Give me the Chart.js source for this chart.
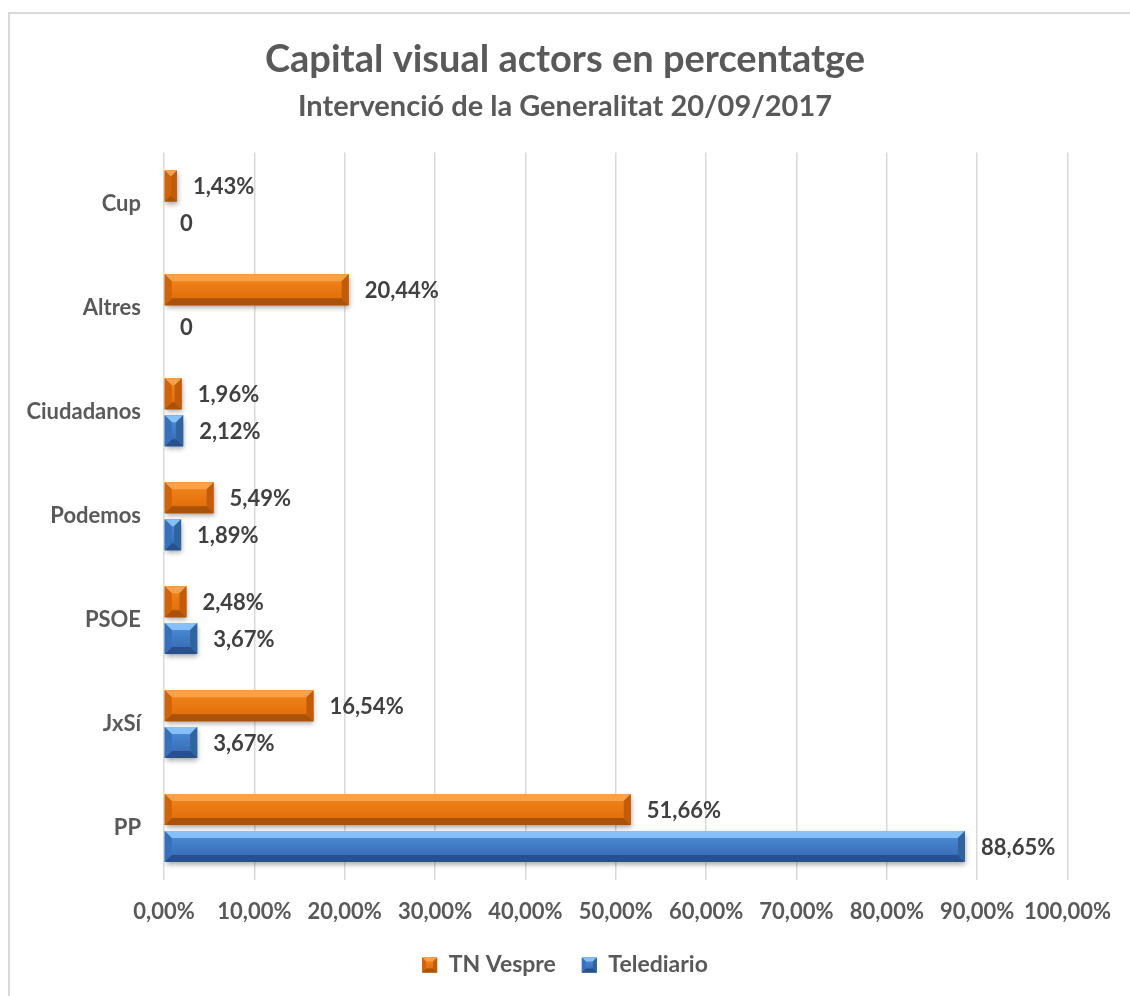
<!DOCTYPE html>
<html>
<head>
<meta charset="utf-8">
<script src="https://cdn.jsdelivr.net/npm/chart.js@4.4.0/dist/chart.umd.min.js"></script>
<style>
  html, body { margin: 0; padding: 0; background: #fff; overflow: hidden; }
  #marc { position: absolute; left: 8px; top: 12px; width: 1200px; height: 1100px; border: 2px solid #d9d9d9; box-sizing: border-box; }
  #grafic { position: absolute; left: 0; top: 0; }
</style>
</head>
<body>
<div id="marc"></div>
<canvas id="grafic" width="1130" height="996"></canvas>
<script>
// Dades del gràfic
const categories = ['Cup', 'Altres', 'Ciudadanos', 'Podemos', 'PSOE', 'JxSí', 'PP'];
const tnVespre = [1.43, 20.44, 1.96, 5.49, 2.48, 16.54, 51.66];
const telediario = [0, 0, 2.12, 1.89, 3.67, 3.67, 88.65];
const seriesNames = ['TN Vespre', 'Telediario'];

// Colors per al relleu de les barres
const paletes = [
    { base: '#E8720C', top: '#F9A04A', bottom: '#A9520A', left: '#D0640A', right: '#C35C0A', g1: '#F5861C', g2: '#DC6A08' },
    { base: '#3D7CCB', top: '#86C0F6', bottom: '#27508C', left: '#3770BC', right: '#30649F', g1: '#4D90DC', g2: '#3566AE' }
];

const FONT = 'Lato, "Open Sans", sans-serif';

function formatPct(v) {
    if (v === 0) return '0';
    return v.toFixed(2).replace('.', ',') + '%';
}

function drawBevel(ctx, left, top, right, bottom, pal, b) {
    b = Math.min(b, (right - left) / 2, (bottom - top) / 2);
    const grad = ctx.createLinearGradient(0, top, 0, bottom);
    grad.addColorStop(0, pal.g1);
    grad.addColorStop(1, pal.g2);
    ctx.fillStyle = grad;
    ctx.fillRect(left, top, right - left, bottom - top);

    const poly = (pts, color) => {
        ctx.beginPath();
        ctx.moveTo(pts[0][0], pts[0][1]);
        for (let i = 1; i < pts.length; i++) ctx.lineTo(pts[i][0], pts[i][1]);
        ctx.closePath();
        ctx.fillStyle = color;
        ctx.fill();
    };
    poly([[left, top], [right, top], [right - b, top + b], [left + b, top + b]], pal.top);
    poly([[left, bottom], [right, bottom], [right - b, bottom - b], [left + b, bottom - b]], pal.bottom);
    poly([[left, top], [left + b, top + b], [left + b, bottom - b], [left, bottom]], pal.left);
    poly([[right, top], [right - b, top + b], [right - b, bottom - b], [right, bottom]], pal.right);
}

const bevelPlugin = {
    id: 'bevel',
    beforeDatasetsDraw(chart) {
        const ctx = chart.ctx;
        ctx.save();
        ctx.shadowColor = 'rgba(0,0,0,0.35)';
        ctx.shadowBlur = 5;
        ctx.shadowOffsetX = 1;
        ctx.shadowOffsetY = 3;
    },
    afterDatasetsDraw(chart) {
        const ctx = chart.ctx;
        ctx.restore();

        // relleu de cada barra
        chart.data.datasets.forEach((ds, di) => {
            const meta = chart.getDatasetMeta(di);
            meta.data.forEach(el => {
                const p = el.getProps(['x', 'y', 'base', 'height'], true);
                const left = Math.min(p.x, p.base);
                const right = Math.max(p.x, p.base);
                if (right - left < 1) return;
                drawBevel(ctx, left, p.y - p.height / 2, right, p.y + p.height / 2, paletes[di], 7);
            });
        });

        // etiquetes de valor
        ctx.save();
        ctx.font = 'bold 22px ' + FONT;
        ctx.fillStyle = '#404040';
        ctx.textAlign = 'left';
        ctx.textBaseline = 'middle';
        chart.data.datasets.forEach((ds, di) => {
            const meta = chart.getDatasetMeta(di);
            meta.data.forEach((el, i) => {
                const p = el.getProps(['x', 'y'], true);
                ctx.fillText(formatPct(ds.data[i]), p.x + 16, p.y + 1);
            });
        });
        ctx.restore();
    },
    afterDraw(chart) {
        // relleu als quadrats de la llegenda
        const lg = chart.legend;
        if (!lg || !lg.legendHitBoxes) return;
        const ctx = chart.ctx;
        lg.legendHitBoxes.forEach((hb, i) => {
            const size = 15;
            const top = hb.top + (hb.height - size) / 2;
            drawBevel(ctx, hb.left, top, hb.left + size, top + size, paletes[i], 4);
        });
    }
};

const ctx = document.getElementById('grafic').getContext('2d');

new Chart(ctx, {
    type: 'bar',
    data: {
        labels: categories,
        datasets: [
            {
                label: seriesNames[0],
                data: tnVespre,
                backgroundColor: paletes[0].base,
                borderWidth: 0,
                categoryPercentage: 0.71,
                barPercentage: 0.84
            },
            {
                label: seriesNames[1],
                data: telediario,
                backgroundColor: paletes[1].base,
                borderWidth: 0,
                categoryPercentage: 0.71,
                barPercentage: 0.84
            }
        ]
    },
    options: {
        indexAxis: 'y', // barres horitzontals
        responsive: false,
        animation: false,
        layout: { padding: { left: 0, right: 0, top: 0, bottom: 9.5 } },
        scales: {
            x: {
                min: 0,
                max: 100,
                ticks: {
                    stepSize: 10,
                    padding: 19,
                    maxRotation: 0,
                    minRotation: 0,
                    autoSkip: false,
                    color: '#595959',
                    font: { family: FONT, size: 22, weight: 'bold' },
                    callback: v => v.toFixed(2).replace('.', ',') + '%'
                },
                grid: { color: '#d9d9d9', lineWidth: 1.5, drawTicks: false },
                border: { display: false },
                afterFit: scale => { scale.height = 47.5; }
            },
            y: {
                ticks: {
                    padding: 23,
                    color: '#595959',
                    font: { family: FONT, size: 22, weight: 'bold' }
                },
                grid: { display: false, drawTicks: false },
                border: { display: false },
                afterFit: scale => { scale.width = 164; }
            },
            // eix buit a la dreta, només per deixar marge
            marge: {
                type: 'linear',
                position: 'right',
                display: true,
                ticks: { display: false },
                grid: { display: false, drawTicks: false },
                border: { display: false },
                afterFit: scale => { scale.width = 56; }
            }
        },
        plugins: {
            title: {
                display: true,
                text: 'Capital visual actors en percentatge',
                color: '#595959',
                font: { family: FONT, size: 38, weight: 'bold' },
                padding: { top: 37, bottom: 6 }
            },
            subtitle: {
                display: true,
                text: 'Intervenció de la Generalitat 20/09/2017',
                color: '#595959',
                font: { family: FONT, size: 29, weight: 'bold' },
                padding: { top: 1, bottom: 28 }
            },
            legend: {
                position: 'bottom',
                labels: {
                    boxWidth: 15,
                    boxHeight: 15,
                    padding: 26,
                    color: '#595959',
                    font: { family: FONT, size: 23, weight: 'bold' }
                }
            },
            tooltip: { enabled: false }
        }
    },
    plugins: [bevelPlugin]
});
</script>
</body>
</html>
